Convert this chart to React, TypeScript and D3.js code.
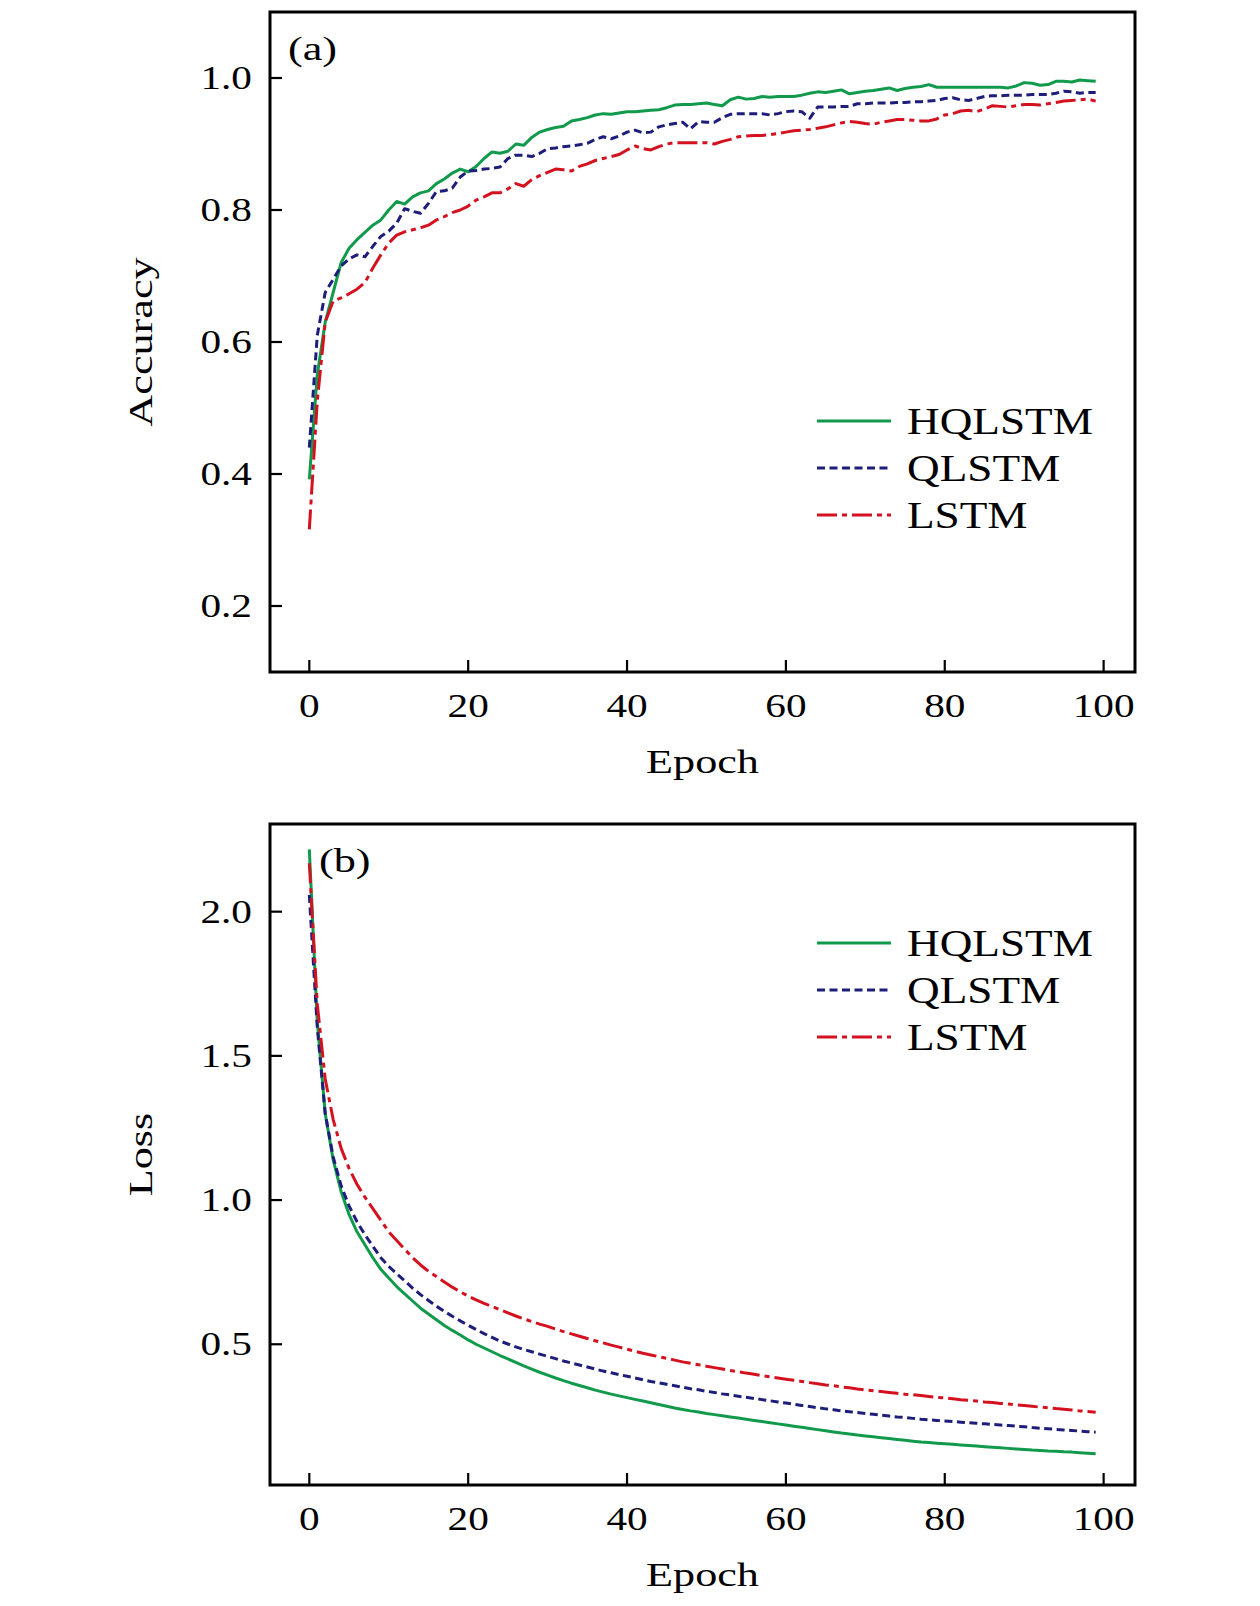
import React from 'react';
import * as d3 from 'd3';

// accuracy per epoch (0..99)
const hqlstmAcc = [
  0.392, 0.55, 0.63, 0.675, 0.72, 0.742, 0.755, 0.766, 0.777, 0.785,
  0.8, 0.813, 0.809, 0.82, 0.826, 0.829, 0.84, 0.847, 0.856, 0.862,
  0.858, 0.866, 0.878, 0.888, 0.886, 0.889, 0.9, 0.898, 0.91, 0.918,
  0.922, 0.925, 0.927, 0.935, 0.937, 0.94, 0.944, 0.946, 0.945, 0.947,
  0.949, 0.949, 0.95, 0.951, 0.952, 0.955, 0.959, 0.96, 0.96, 0.961,
  0.962, 0.96, 0.958, 0.967, 0.971, 0.968, 0.969, 0.972, 0.971, 0.972,
  0.972, 0.972, 0.974, 0.977, 0.979, 0.978, 0.98, 0.982, 0.976, 0.978,
  0.98, 0.981, 0.983, 0.985, 0.981, 0.984, 0.986, 0.987, 0.99, 0.986,
  0.986, 0.986, 0.986, 0.986, 0.986, 0.986, 0.986, 0.986, 0.985, 0.988,
  0.993, 0.992, 0.989, 0.99, 0.995, 0.995, 0.994, 0.997, 0.996, 0.995,
];
const qlstmAcc = [
  0.44, 0.61, 0.675, 0.695, 0.715, 0.726, 0.732, 0.729, 0.745, 0.76,
  0.768, 0.78, 0.802, 0.798, 0.795, 0.81, 0.828, 0.829, 0.833, 0.85,
  0.859, 0.86, 0.862, 0.863, 0.865, 0.878, 0.883, 0.883, 0.881, 0.886,
  0.893, 0.894, 0.896, 0.897, 0.899, 0.901, 0.907, 0.911, 0.908, 0.912,
  0.918, 0.921, 0.917, 0.918, 0.926, 0.929, 0.931, 0.933, 0.923, 0.934,
  0.933, 0.933, 0.94, 0.945, 0.946, 0.946, 0.946, 0.946, 0.944, 0.946,
  0.949, 0.95, 0.949, 0.939, 0.956, 0.956, 0.956, 0.957, 0.957, 0.961,
  0.961, 0.962, 0.962, 0.962, 0.963, 0.963, 0.964, 0.964, 0.965, 0.966,
  0.969, 0.97, 0.967, 0.966, 0.969, 0.972, 0.973, 0.973, 0.974, 0.974,
  0.974, 0.975, 0.975, 0.975, 0.977, 0.98, 0.979, 0.977, 0.978, 0.978,
];
const lstmAcc = [
  0.316, 0.51, 0.63, 0.662, 0.667, 0.673, 0.68, 0.69, 0.712, 0.732,
  0.75, 0.762, 0.767, 0.77, 0.773, 0.777, 0.785, 0.79, 0.796, 0.8,
  0.806, 0.815, 0.82, 0.826, 0.826, 0.832, 0.84, 0.836, 0.846, 0.852,
  0.857, 0.862, 0.861, 0.859, 0.866, 0.87, 0.875, 0.878, 0.881, 0.884,
  0.891, 0.897, 0.893, 0.891, 0.896, 0.9, 0.902, 0.902, 0.902, 0.902,
  0.902, 0.9, 0.904, 0.907, 0.911, 0.912, 0.913, 0.913, 0.914, 0.916,
  0.918, 0.92, 0.921, 0.922, 0.924, 0.926, 0.929, 0.932, 0.934, 0.933,
  0.931, 0.93, 0.933, 0.935, 0.937, 0.937, 0.936, 0.935, 0.935, 0.938,
  0.944, 0.946, 0.95, 0.951, 0.949, 0.953, 0.958, 0.957, 0.956, 0.958,
  0.96, 0.96, 0.959, 0.961, 0.963, 0.965, 0.966, 0.967, 0.968, 0.965,
];

// loss per epoch (0..99)
const hqlstmLoss = [
  2.216, 1.62, 1.3, 1.14, 1.03, 0.95, 0.89, 0.845, 0.8, 0.76,
  0.73, 0.7, 0.675, 0.65, 0.625, 0.605, 0.585, 0.565, 0.548, 0.532,
  0.515, 0.5, 0.487, 0.474, 0.461, 0.449, 0.437, 0.425, 0.414, 0.403,
  0.393, 0.383, 0.374, 0.365, 0.357, 0.349, 0.341, 0.334, 0.327, 0.321,
  0.315, 0.309, 0.303, 0.297, 0.291, 0.285, 0.279, 0.274, 0.269, 0.265,
  0.26, 0.256, 0.252, 0.248, 0.244, 0.24, 0.236, 0.232, 0.228, 0.224,
  0.22, 0.216, 0.212, 0.208, 0.204, 0.2, 0.196, 0.192, 0.189, 0.185,
  0.182, 0.179, 0.176, 0.173, 0.17, 0.167, 0.164, 0.161, 0.159, 0.157,
  0.155, 0.153, 0.151, 0.149, 0.147, 0.145, 0.143, 0.141, 0.139, 0.137,
  0.135, 0.133, 0.132, 0.13, 0.129, 0.127, 0.126, 0.124, 0.122, 0.12,
];
const qlstmLoss = [
  2.058, 1.6, 1.3, 1.15, 1.05, 0.98, 0.925, 0.88, 0.84, 0.8,
  0.77, 0.745, 0.72, 0.695, 0.672, 0.652, 0.632, 0.614, 0.597, 0.581,
  0.566, 0.551, 0.537, 0.524, 0.511, 0.501, 0.491, 0.482, 0.474, 0.466,
  0.458, 0.45, 0.442, 0.435, 0.428, 0.421, 0.414, 0.407, 0.401, 0.395,
  0.389, 0.383, 0.377, 0.371, 0.366, 0.361, 0.356, 0.351, 0.346, 0.342,
  0.337, 0.333, 0.328, 0.324, 0.32, 0.316, 0.312, 0.308, 0.304, 0.3,
  0.296, 0.292, 0.288, 0.284, 0.28, 0.276, 0.273, 0.269, 0.266, 0.263,
  0.26, 0.257, 0.254, 0.251, 0.248, 0.246, 0.243, 0.24, 0.238, 0.236,
  0.234, 0.232, 0.23, 0.228, 0.226, 0.224, 0.222, 0.22, 0.218, 0.216,
  0.214, 0.211, 0.209, 0.207, 0.205, 0.203, 0.201, 0.199, 0.197, 0.195,
];
const lstmLoss = [
  2.168, 1.68, 1.42, 1.28, 1.18, 1.11, 1.055, 1.01, 0.97, 0.93,
  0.89, 0.86, 0.83, 0.8, 0.775, 0.753, 0.735, 0.716, 0.698, 0.682,
  0.667, 0.654, 0.642, 0.631, 0.62, 0.609, 0.598, 0.588, 0.579, 0.57,
  0.562, 0.553, 0.544, 0.536, 0.528, 0.52, 0.512, 0.505, 0.497, 0.49,
  0.483, 0.476, 0.469, 0.463, 0.457, 0.451, 0.445, 0.439, 0.434, 0.429,
  0.424, 0.419, 0.414, 0.409, 0.405, 0.4, 0.396, 0.391, 0.387, 0.383,
  0.379, 0.375, 0.371, 0.367, 0.363, 0.359, 0.356, 0.352, 0.349, 0.345,
  0.342, 0.339, 0.336, 0.333, 0.33, 0.327, 0.325, 0.322, 0.319, 0.316,
  0.314, 0.311, 0.308, 0.306, 0.303, 0.3, 0.298, 0.295, 0.293, 0.29,
  0.288, 0.285, 0.282, 0.28, 0.277, 0.275, 0.272, 0.269, 0.267, 0.264,
];

const seriesNames = ['HQLSTM', 'QLSTM', 'LSTM'];
const xTicks = [0, 20, 40, 60, 80, 100];
const accTicks = [0.2, 0.4, 0.6, 0.8, 1.0];
const lossTicks = [0.5, 1.0, 1.5, 2.0];

const COLORS = ['#119a4c', '#1e1e7a', '#d4121f'];
const DASHES = ['none', '8,4.5', '20,5,5,5'];
const FONT = "'Liberation Serif', 'Times New Roman', serif";

const W = 1260;
const H = 1606;
const LEFT = 270;
const RIGHT = 1135;

const xScale = d3.scaleLinear().domain([-4.95, 103.95]).range([LEFT, RIGHT]);

// stretched serif text, to get closer to the wide TeX look
const Txt = ({ x, y, size, sx = 1.25, anchor = 'start', rotate = 0, children }: any) => (
  <text
    transform={`translate(${x},${y})${rotate ? ` rotate(${rotate})` : ''} scale(${sx},1)`}
    fontFamily={FONT}
    fontSize={size}
    textAnchor={anchor}
    fill="#000"
  >
    {children}
  </text>
);

interface PanelProps {
  top: number;
  bottom: number;
  domain: [number, number];
  yTicks: number[];
  series: number[][];
  yLabel: string;
  tag: string;
  tagX: number;
  legendY: number;
}

const Panel = ({ top, bottom, domain, yTicks, series, yLabel, tag, tagX, legendY }: PanelProps) => {
  const yScale = d3.scaleLinear().domain(domain).range([bottom, top]);
  const line = d3
    .line<number>()
    .x((_, i) => xScale(i))
    .y((d) => yScale(d));

  return (
    <g>
      {series.map((s, k) => (
        <path
          key={k}
          d={line(s) || ''}
          fill="none"
          stroke={COLORS[k]}
          strokeWidth={3}
          strokeDasharray={DASHES[k]}
          strokeLinejoin="round"
        />
      ))}

      {/* frame */}
      <rect x={LEFT} y={top} width={RIGHT - LEFT} height={bottom - top} fill="none" stroke="#000" strokeWidth={3} />

      {/* x ticks */}
      {xTicks.map((t) => (
        <g key={t}>
          <line x1={xScale(t)} x2={xScale(t)} y1={bottom} y2={bottom - 12} stroke="#000" strokeWidth={2.2} />
          <Txt x={xScale(t)} y={bottom + 45} size={33} anchor="middle">
            {t}
          </Txt>
        </g>
      ))}

      {/* y ticks */}
      {yTicks.map((t) => (
        <g key={t}>
          <line x1={LEFT} x2={LEFT + 12} y1={yScale(t)} y2={yScale(t)} stroke="#000" strokeWidth={2.2} />
          <Txt x={252} y={yScale(t) + 11} size={33} anchor="end">
            {t.toFixed(1)}
          </Txt>
        </g>
      ))}

      <Txt x={(LEFT + RIGHT) / 2} y={bottom + 101} size={34} sx={1.3} anchor="middle">
        Epoch
      </Txt>
      <Txt x={152} y={(top + bottom) / 2} size={34} sx={1.3} anchor="middle" rotate={-90}>
        {yLabel}
      </Txt>
      <Txt x={tagX} y={top + 48} size={34} sx={1.3}>
        {tag}
      </Txt>

      {/* legend */}
      {seriesNames.map((name, k) => (
        <g key={name}>
          <line
            x1={817}
            x2={891}
            y1={legendY + k * 47}
            y2={legendY + k * 47}
            stroke={COLORS[k]}
            strokeWidth={3}
            strokeDasharray={DASHES[k]}
          />
          <Txt x={907} y={legendY + k * 47 + 13} size={38} sx={1.19}>
            {name}
          </Txt>
        </g>
      ))}
    </g>
  );
};

const App = () => (
  <div style={{ position: 'absolute', left: 0, top: 0, background: '#fff' }}>
    <svg width={W} height={H} viewBox={`0 0 ${W} ${H}`}>
      <rect width={W} height={H} fill="#fff" />
      <Panel
        top={12}
        bottom={672}
        domain={[0.1, 1.1]}
        yTicks={accTicks}
        series={[hqlstmAcc, qlstmAcc, lstmAcc]}
        yLabel="Accuracy"
        tag="(a)"
        tagX={288}
        legendY={421}
      />
      <Panel
        top={824}
        bottom={1485}
        domain={[0.012, 2.304]}
        yTicks={lossTicks}
        series={[hqlstmLoss, qlstmLoss, lstmLoss]}
        yLabel="Loss"
        tag="(b)"
        tagX={319}
        legendY={943}
      />
    </svg>
  </div>
);

export default App;
